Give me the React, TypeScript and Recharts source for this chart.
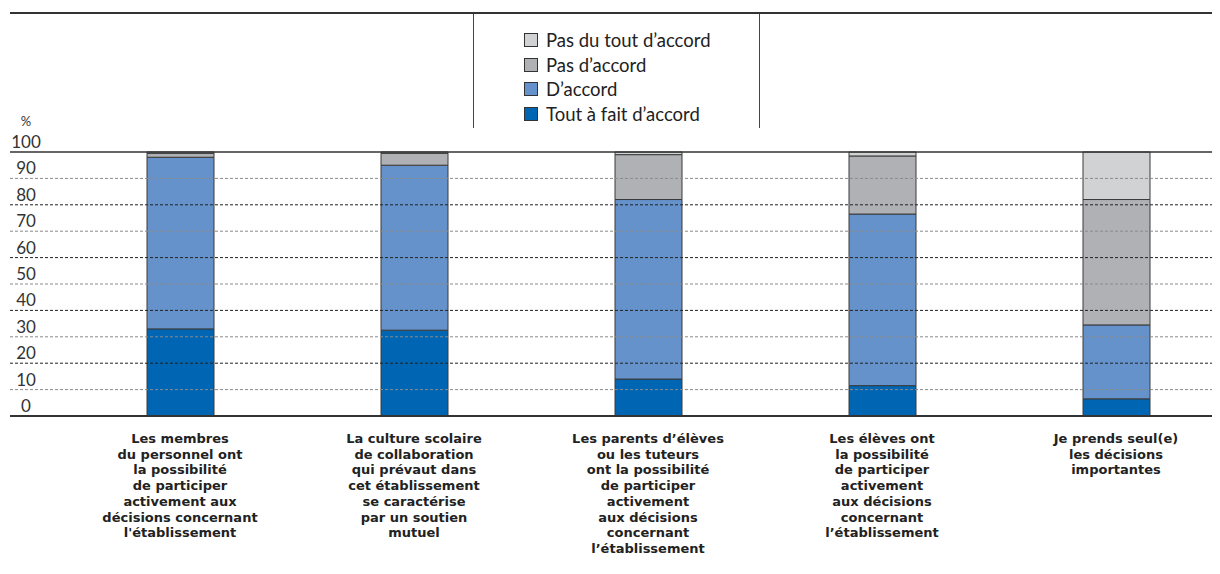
import React from 'react';
import { BarChart, Bar, XAxis, YAxis, Legend, ReferenceLine } from 'recharts';

// categories, one entry per line of the label
const CATEGORY_LINES = [
  ['Les membres', 'du personnel ont', 'la possibilité', 'de participer', 'activement aux', 'décisions concernant', "l'établissement"],
  ['La culture scolaire', 'de collaboration', 'qui prévaut dans', 'cet établissement', 'se caractérise', 'par un soutien', 'mutuel'],
  ['Les parents d’élèves', 'ou les tuteurs', 'ont la possibilité', 'de participer', 'activement', 'aux décisions', 'concernant', 'l’établissement'],
  ['Les élèves ont', 'la possibilité', 'de participer', 'activement', 'aux décisions', 'concernant', 'l’établissement'],
  ['Je prends seul(e)', 'les décisions', 'importantes'],
];

const toutAFait = [33, 32.5, 14, 11.5, 6.5];
const dAccord = [65, 62.5, 68, 65, 28];
const pasDAccord = [1.5, 4.5, 17, 22, 47.5];
const pasDuTout = [0.5, 0.5, 1, 1.5, 18];

const Y_TICKS = [0, 10, 20, 30, 40, 50, 60, 70, 80, 90, 100];

const SERIES = [
  { key: 'toutAFait', name: 'Tout à fait d’accord', color: '#0066b3' },
  { key: 'dAccord', name: 'D’accord', color: '#6592ca' },
  { key: 'pasDAccord', name: 'Pas d’accord', color: '#b0b1b4' },
  { key: 'pasDuTout', name: 'Pas du tout d’accord', color: '#d1d2d4' },
];

const data = CATEGORY_LINES.map((lines, i) => ({
  name: lines.join(' '),
  lines,
  toutAFait: toutAFait[i],
  dAccord: dAccord[i],
  pasDAccord: pasDAccord[i],
  pasDuTout: pasDuTout[i],
}));

const FONT = 'Lato, "Open Sans", sans-serif';
const LABEL_FONT = '"DejaVu Sans", "Open Sans", sans-serif';

function CategoryTick(props: any) {
  const { x, payload } = props;
  const lines = data[payload.index]?.lines ?? [payload.value];
  return (
    <text
      x={x}
      y={435}
      textAnchor="middle"
      fontFamily={LABEL_FONT}
      fontWeight={700}
      fontSize={13}
      fill="#222"
    >
      {lines.map((l: string, i: number) => (
        <tspan key={i} x={x} dy={i === 0 ? 0 : 15.7}>
          {l}
        </tspan>
      ))}
    </text>
  );
}

function PercentTick(props: any) {
  const { y, payload } = props;
  return (
    <g>
      {payload.value === 100 && (
        <text x={18} y={y - 26} textAnchor="middle" fontFamily={FONT} fontSize={13} fill="#333">
          %
        </text>
      )}
      <text x={18} y={y - 4} textAnchor="middle" fontFamily={FONT} fontSize={17} fill="#333">
        {payload.value}
      </text>
    </g>
  );
}

function LegendBox() {
  const items = [...SERIES].reverse();
  return (
    <div style={{ position: 'relative', width: 1210, height: 116, borderTop: '2px solid #333', boxSizing: 'border-box' }}>
      <div
        style={{
          position: 'absolute',
          left: 463,
          top: 0,
          width: 287,
          height: 114,
          borderLeft: '1px solid #444',
          borderRight: '1px solid #444',
          boxSizing: 'border-box',
          paddingTop: 14,
          paddingLeft: 50,
        }}
      >
        {items.map((s) => (
          <div key={s.key} style={{ display: 'flex', alignItems: 'center', height: 24.6 }}>
            <span
              style={{
                display: 'inline-block',
                width: 14,
                height: 14,
                background: s.color,
                border: '1px solid #333',
                boxSizing: 'border-box',
                marginRight: 8,
              }}
            />
            <span style={{ fontFamily: FONT, fontSize: 18.5, color: '#222', whiteSpace: 'nowrap' }}>{s.name}</span>
          </div>
        ))}
      </div>
    </div>
  );
}

export default function App() {
  return (
    <div style={{ width: 1212, overflow: 'hidden' }}>
      <BarChart
        width={1225}
        height={566}
        data={data}
        margin={{ top: 144, right: 0, bottom: 0, left: 0 }}
      >
        <XAxis
          dataKey="name"
          height={158}
          padding={{ left: 53, right: 0 }}
          axisLine={false}
          tickLine={false}
          interval={0}
          tick={<CategoryTick />}
        />
        <YAxis
          width={2}
          domain={[0, 100]}
          ticks={Y_TICKS}
          interval={0}
          axisLine={false}
          tickLine={false}
          tick={<PercentTick />}
        />
        <Legend
          layout="vertical"
          align="center"
          verticalAlign="middle"
          content={() => <LegendBox />}
          wrapperStyle={{ position: 'absolute', top: 4, left: 2, width: 1210, height: 116 }}
        />
        {Y_TICKS.filter((t) => t > 0 && t < 100).map((t) => (
          <ReferenceLine
            key={t}
            y={t}
            stroke={t % 20 === 0 ? '#222' : '#8a8a8a'}
            strokeDasharray="3 2"
            strokeWidth={1}
          />
        ))}
        {SERIES.map((s) => (
          <Bar
            key={s.key}
            dataKey={s.key}
            name={s.name}
            stackId="a"
            fill={s.color}
            stroke="#3a3a3a"
            strokeWidth={1}
            barSize={67}
            isAnimationActive={false}
          />
        ))}
        <ReferenceLine y={100} stroke="#333" strokeWidth={1.5} />
        <ReferenceLine y={0} stroke="#333" strokeWidth={2} />
      </BarChart>
    </div>
  );
}
